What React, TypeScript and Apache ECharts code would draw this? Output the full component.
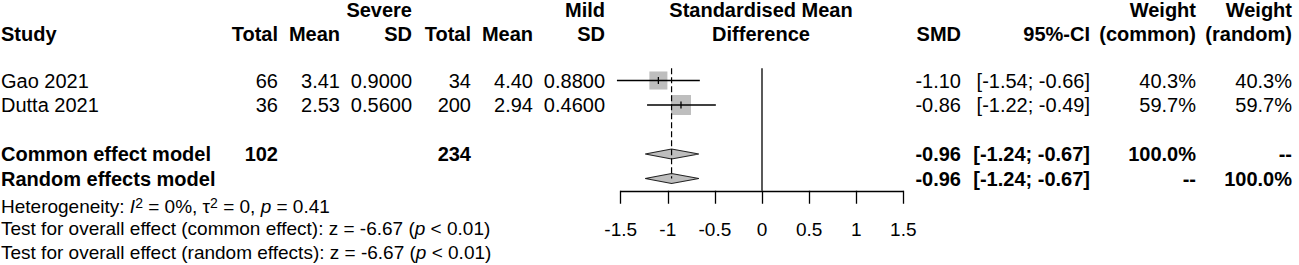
import React, { useEffect, useRef } from "react";
import * as echarts from "echarts";

// ---------------- data ----------------
const studies = ["Gao 2021", "Dutta 2021"];
const sevTotal = [66, 36];
const sevMean = [3.41, 2.53];
const sevSD = [0.9, 0.56];
const mildTotal = [34, 200];
const mildMean = [4.4, 2.94];
const mildSD = [0.88, 0.46];
const smd = [-1.1, -0.86];
const ciLow = [-1.54, -1.22];
const ciHigh = [-0.66, -0.49];
const wCommon = [40.3, 59.7];
const wRandom = [40.3, 59.7];

const models = ["Common effect model", "Random effects model"];
const modelSmd = [-0.96, -0.96];
const modelLow = [-1.24, -1.24];
const modelHigh = [-0.67, -0.67];
const modelWCommon = ["100.0%", "--"];
const modelWRandom = ["--", "100.0%"];

const tickValues = [-1.5, -1, -0.5, 0, 0.5, 1, 1.5];

// ---------------- layout ----------------
const W = 1299;
const H = 265;
const FONT = "'Liberation Sans', Arial, sans-serif";
const FS = 20;
const FS_SMALL = 19;
const PLOT_L = 620.7;
const PLOT_R = 903.3;
const GRID_TOP = 68.25;
const STEP = 24.5;
const ROW_MIN = -0.5;
const ROW_MAX = 4.5;
const rowY = (r: number) => GRID_TOP + (r - ROW_MIN) * STEP;
const studyRows = studies.map((_, i) => i);
const modelRows = [3, 4];

const COL = {
  study: 1,
  sevTotal: 278,
  sevMean: 340,
  sevSD: 412,
  mildTotal: 471,
  mildMean: 533,
  mildSD: 605,
  effCenter: 761,
  smd: 961,
  ci: 1090,
  wCommon: 1196,
  wRandom: 1292,
};
const HEAD1 = 9.5;
const HEAD2 = 33.5;
const BOTTOM_Y = [206, 228, 252.5];

function txt(
  x: number,
  y: number,
  text: string,
  align: string,
  bold = false,
  fs = FS
) {
  return {
    type: "text",
    x,
    y,
    silent: true,
    style: {
      text,
      fill: "#000",
      fontFamily: FONT,
      fontSize: fs,
      fontWeight: bold ? "bold" : "normal",
      align,
      textAlign: align,
      verticalAlign: "middle",
      textVerticalAlign: "middle",
    },
  };
}

function richTxt(x: number, y: number, text: string) {
  const base = { fontFamily: FONT, fontSize: FS_SMALL, fill: "#000" };
  return {
    type: "text",
    x,
    y,
    silent: true,
    style: {
      text,
      fill: "#000",
      fontFamily: FONT,
      fontSize: FS_SMALL,
      align: "left",
      textAlign: "left",
      verticalAlign: "middle",
      textVerticalAlign: "middle",
      rich: {
        n: { ...base, lineHeight: 21 },
        it: { ...base, fontStyle: "italic", lineHeight: 21 },
        sup: { ...base, fontSize: 14, lineHeight: 14, verticalAlign: "top" },
      },
    },
  };
}

const fmtPct = (v: number) => v.toFixed(1) + "%";
const fmtCI = (lo: number, hi: number) =>
  "[" + lo.toFixed(2) + "; " + hi.toFixed(2) + "]";

export default function App() {
  const ref = useRef<HTMLDivElement>(null);

  useEffect(() => {
    if (!ref.current) return;
    const chart = echarts.init(ref.current, null, { renderer: "svg" });

    const graphics: any[] = [];
    // header
    graphics.push(txt(COL.sevSD, HEAD1, "Severe", "right", true));
    graphics.push(txt(COL.mildSD, HEAD1, "Mild", "right", true));
    graphics.push(txt(COL.effCenter, HEAD1, "Standardised Mean", "center", true));
    graphics.push(txt(COL.wCommon, HEAD1, "Weight", "right", true));
    graphics.push(txt(COL.wRandom, HEAD1, "Weight", "right", true));
    graphics.push(txt(COL.study, HEAD2, "Study", "left", true));
    graphics.push(txt(COL.sevTotal, HEAD2, "Total", "right", true));
    graphics.push(txt(COL.sevMean, HEAD2, "Mean", "right", true));
    graphics.push(txt(COL.sevSD, HEAD2, "SD", "right", true));
    graphics.push(txt(COL.mildTotal, HEAD2, "Total", "right", true));
    graphics.push(txt(COL.mildMean, HEAD2, "Mean", "right", true));
    graphics.push(txt(COL.mildSD, HEAD2, "SD", "right", true));
    graphics.push(txt(COL.effCenter, HEAD2, "Difference", "center", true));
    graphics.push(txt(COL.smd, HEAD2, "SMD", "right", true));
    graphics.push(txt(COL.ci, HEAD2, "95%-CI", "right", true));
    graphics.push(txt(COL.wCommon, HEAD2, "(common)", "right", true));
    graphics.push(txt(COL.wRandom, HEAD2, "(random)", "right", true));

    // study rows
    studies.forEach((s, i) => {
      const y = rowY(studyRows[i]);
      graphics.push(txt(COL.study, y, s, "left"));
      graphics.push(txt(COL.sevTotal, y, String(sevTotal[i]), "right"));
      graphics.push(txt(COL.sevMean, y, sevMean[i].toFixed(2), "right"));
      graphics.push(txt(COL.sevSD, y, sevSD[i].toFixed(4), "right"));
      graphics.push(txt(COL.mildTotal, y, String(mildTotal[i]), "right"));
      graphics.push(txt(COL.mildMean, y, mildMean[i].toFixed(2), "right"));
      graphics.push(txt(COL.mildSD, y, mildSD[i].toFixed(4), "right"));
      graphics.push(txt(COL.smd, y, smd[i].toFixed(2), "right"));
      graphics.push(txt(COL.ci, y, fmtCI(ciLow[i], ciHigh[i]), "right"));
      graphics.push(txt(COL.wCommon, y, fmtPct(wCommon[i]), "right"));
      graphics.push(txt(COL.wRandom, y, fmtPct(wRandom[i]), "right"));
    });

    // model rows
    const sumSev = sevTotal.reduce((a, b) => a + b, 0);
    const sumMild = mildTotal.reduce((a, b) => a + b, 0);
    models.forEach((m, i) => {
      const y = rowY(modelRows[i]);
      graphics.push(txt(COL.study, y, m, "left", true));
      if (i === 0) {
        graphics.push(txt(COL.sevTotal, y, String(sumSev), "right", true));
        graphics.push(txt(COL.mildTotal, y, String(sumMild), "right", true));
      }
      graphics.push(txt(COL.smd, y, modelSmd[i].toFixed(2), "right", true));
      graphics.push(txt(COL.ci, y, fmtCI(modelLow[i], modelHigh[i]), "right", true));
      graphics.push(txt(COL.wCommon, y, modelWCommon[i], "right", true));
      graphics.push(txt(COL.wRandom, y, modelWRandom[i], "right", true));
    });

    // bottom stats
    graphics.push(
      richTxt(
        COL.study,
        BOTTOM_Y[0],
        "{n|Heterogeneity: }{it|I}{sup|2}{n| = 0%, τ}{sup|2}{n| = 0, }{it|p}{n| = 0.41}"
      )
    );
    graphics.push(
      richTxt(
        COL.study,
        BOTTOM_Y[1],
        "{n|Test for overall effect (common effect): z = -6.67 (}{it|p}{n| < 0.01)}"
      )
    );
    graphics.push(
      richTxt(
        COL.study,
        BOTTOM_Y[2],
        "{n|Test for overall effect (random effects): z = -6.67 (}{it|p}{n| < 0.01)}"
      )
    );

    const studyData = studies.map((_, i) => [
      smd[i],
      studyRows[i],
      ciLow[i],
      ciHigh[i],
      wCommon[i],
    ]);
    const diamondData = models.map((_, i) => [
      modelSmd[i],
      modelRows[i],
      modelLow[i],
      modelHigh[i],
    ]);

    chart.setOption({
      animation: false,
      backgroundColor: "#fff",
      grid: {
        left: PLOT_L,
        right: W - PLOT_R,
        top: GRID_TOP,
        bottom: H - rowY(ROW_MAX),
        containLabel: false,
      },
      xAxis: {
        type: "value",
        min: tickValues[0],
        max: tickValues[tickValues.length - 1],
        interval: 0.5,
        position: "bottom",
        axisLine: { show: true, onZero: false, lineStyle: { color: "#000", width: 1.3 } },
        axisTick: { show: true, length: 13, lineStyle: { color: "#000", width: 1.3 } },
        axisLabel: {
          margin: 29,
          color: "#000",
          fontFamily: FONT,
          fontSize: FS_SMALL,
          formatter: (v: number) => String(v),
        },
        splitLine: { show: false },
      },
      yAxis: {
        type: "value",
        min: ROW_MIN,
        max: ROW_MAX,
        inverse: true,
        show: false,
        axisLine: { onZero: false },
        splitLine: { show: false },
      },
      graphic: graphics,
      series: [
        {
          type: "line",
          data: [
            [0, ROW_MIN],
            [0, ROW_MAX],
          ],
          symbol: "none",
          lineStyle: { color: "#000", width: 1.3 },
          silent: true,
        },
        {
          type: "line",
          data: [
            [modelSmd[0], ROW_MIN],
            [modelSmd[0], modelRows[1]],
          ],
          symbol: "none",
          lineStyle: { color: "#000", width: 1.2, type: [6, 3] },
          silent: true,
        },
        {
          type: "custom",
          data: studyData,
          clip: false,
          silent: true,
          encode: { x: 0, y: 1 },
          renderItem: (params: any, api: any) => {
            const est = api.coord([api.value(0), api.value(1)]);
            const lo = api.coord([api.value(2), api.value(1)]);
            const hi = api.coord([api.value(3), api.value(1)]);
            const size = 14 + 0.1 * api.value(4);
            return {
              type: "group",
              children: [
                {
                  type: "rect",
                  shape: { x: est[0] - size / 2, y: est[1] - size / 2, width: size, height: size },
                  style: { fill: "#bebebe" },
                },
                {
                  type: "line",
                  shape: { x1: lo[0], y1: lo[1], x2: hi[0], y2: hi[1] },
                  style: { stroke: "#000", lineWidth: 1.3 },
                },
                {
                  type: "line",
                  shape: { x1: est[0], y1: est[1] - 3.5, x2: est[0], y2: est[1] + 3.5 },
                  style: { stroke: "#000", lineWidth: 1.3 },
                },
              ],
            };
          },
        },
        {
          type: "custom",
          data: diamondData,
          clip: false,
          silent: true,
          encode: { x: 0, y: 1 },
          renderItem: (params: any, api: any) => {
            const est = api.coord([api.value(0), api.value(1)]);
            const lo = api.coord([api.value(2), api.value(1)]);
            const hi = api.coord([api.value(3), api.value(1)]);
            const h = 5;
            return {
              type: "polygon",
              shape: {
                points: [
                  [lo[0], lo[1]],
                  [est[0], est[1] - h],
                  [hi[0], hi[1]],
                  [est[0], est[1] + h],
                ],
              },
              style: { fill: "#bebebe", stroke: "#222", lineWidth: 1.2 },
            };
          },
        },
      ],
    });

    return () => chart.dispose();
  }, []);

  return (
    <div
      ref={ref}
      style={{
        position: "absolute",
        left: 0,
        top: 0,
        width: W,
        height: H,
        background: "#fff",
      }}
    />
  );
}
